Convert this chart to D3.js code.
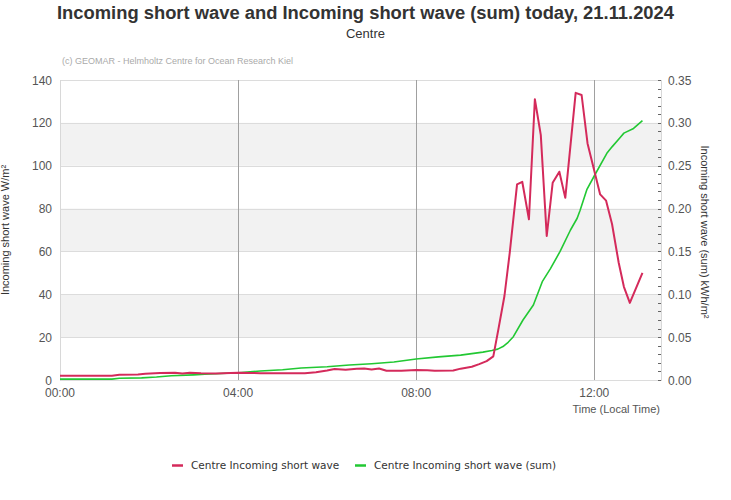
<!DOCTYPE html>
<html><head><meta charset="utf-8">
<script src="https://cdn.jsdelivr.net/npm/d3@7"></script>
<style>body{margin:0;background:#fff}svg{display:block}</style>
</head><body>
<svg id="c" width="731" height="500"></svg>
<script>
const titleText = "Incoming short wave and Incoming short wave (sum) today, 21.11.2024";
const subtitleText = "Centre";
const creditText = "(c) GEOMAR - Helmholtz Centre for Ocean Research Kiel";
const seriesNames = ["Centre Incoming short wave", "Centre Incoming short wave (sum)"];
const xTicks = ["00:00", "04:00", "08:00", "12:00"];
const leftTicks = [0, 20, 40, 60, 80, 100, 120, 140];
const rightTicks = [0, 0.05, 0.10, 0.15, 0.20, 0.25, 0.30, 0.35];

// Incoming short wave (W/m²)
const swTimes = ["00:00","01:10","01:20","01:45","01:55","02:15","02:35","02:45","02:55","03:10","03:30","04:00","04:20","04:30","05:00","05:30","05:45","06:00","06:10","06:25","06:40","06:50","07:00","07:10","07:20","07:40","08:00","08:15","08:25","08:50","09:00","09:15","09:25","09:35","09:44","09:51","09:59","10:06","10:16","10:23","10:32","10:40","10:48","10:56","11:04","11:13","11:21","11:35","11:43","11:51","12:08","12:16","12:24","12:33","12:40","12:48","13:05"];
const swValues = [2.0,2.0,2.4,2.6,2.9,3.3,3.4,3.0,3.4,3.1,3.0,3.4,3.3,3.1,3.1,3.1,3.6,4.4,5.1,4.8,5.2,5.4,4.9,5.4,4.3,4.3,4.7,4.6,4.3,4.4,5.3,6.2,7.4,8.8,11.0,24,39.2,59,91.3,92.5,75,131,114.3,67.2,92,97.2,85,134,133,110.4,86.6,83.7,72.8,54.7,43.5,36,50];

// Incoming short wave (sum) (kWh/m²)
const sumTimes = ["00:00","01:10","01:20","01:50","02:10","02:30","03:00","03:15","04:00","04:30","05:00","05:25","06:00","06:30","07:00","07:30","08:00","08:30","09:00","09:30","09:42","09:50","09:57","10:04","10:11","10:24","10:38","10:50","11:01","11:14","11:28","11:37","11:41","11:50","12:00","12:17","12:24","12:35","12:40","12:53","13:05"];
const sumValues = [0.001,0.001,0.002,0.0025,0.0035,0.005,0.006,0.0067,0.0085,0.0105,0.012,0.014,0.0155,0.0175,0.019,0.021,0.0245,0.027,0.029,0.0325,0.0345,0.036,0.039,0.044,0.0505,0.070,0.0875,0.1147,0.130,0.150,0.175,0.1887,0.198,0.222,0.238,0.2645,0.272,0.283,0.288,0.2935,0.3025];

const toMin = s => { const [h,m] = s.split(":").map(Number); return h*60+m; };

const svg = d3.select("#c");
const L = 60, R = 661, T = 80, B = 380;
const x = d3.scaleLinear().domain([0, 810]).range([L, R]);
const yL = d3.scaleLinear().domain([0, 140]).range([B, T]);
const yR = d3.scaleLinear().domain([0, 0.35]).range([B, T]);

const font = "'Liberation Sans', Arial, sans-serif";

// bands
const bands = [[20,40],[60,80],[100,120]];
svg.append("g").selectAll("rect").data(bands).join("rect")
  .attr("x", L).attr("width", R - L)
  .attr("y", d => yL(d[1])).attr("height", d => yL(d[0]) - yL(d[1]))
  .attr("fill", "#f2f2f2");

// horizontal grid
svg.append("g").selectAll("line").data(leftTicks).join("line")
  .attr("x1", L).attr("x2", R)
  .attr("y1", d => Math.round(yL(d)) + 0.5).attr("y2", d => Math.round(yL(d)) + 0.5)
  .attr("stroke", "#dcdcdc").attr("stroke-width", 1);

// vertical borders
svg.append("line").attr("x1", L+0.5).attr("x2", L+0.5).attr("y1", T).attr("y2", B+1).attr("stroke", "#d8d8d8");
svg.append("line").attr("x1", R+0.5).attr("x2", R+0.5).attr("y1", T).attr("y2", B+1).attr("stroke", "#d8d8d8");

// vertical time lines
svg.append("g").selectAll("line").data(xTicks.slice(1)).join("line")
  .attr("x1", d => Math.round(x(toMin(d))) + 0.5).attr("x2", d => Math.round(x(toMin(d))) + 0.5)
  .attr("y1", T).attr("y2", B)
  .attr("stroke", "#a0a0a0").attr("stroke-width", 1);

// right minor ticks
const minor = d3.range(0, 36).map(i => i / 100);
svg.append("g").selectAll("line").data(minor).join("line")
  .attr("x1", R - 3).attr("x2", R)
  .attr("y1", d => Math.round(yR(d)) + 0.5).attr("y2", d => Math.round(yR(d)) + 0.5)
  .attr("stroke", "#666").attr("stroke-width", 1);

// axis labels
svg.append("g").selectAll("text").data(leftTicks).join("text")
  .attr("x", 52).attr("y", d => yL(d) + 4.5)
  .attr("text-anchor", "end").attr("font-family", font).attr("font-size", 12).attr("fill", "#555")
  .text(d => d);
svg.append("g").selectAll("text").data(rightTicks).join("text")
  .attr("x", 668).attr("y", d => yR(d) + 4.5)
  .attr("text-anchor", "start").attr("font-family", font).attr("font-size", 12).attr("fill", "#555")
  .text(d => d.toFixed(2));
svg.append("g").selectAll("text").data(xTicks).join("text")
  .attr("x", d => x(toMin(d))).attr("y", 397)
  .attr("text-anchor", "middle").attr("font-family", font).attr("font-size", 12).attr("fill", "#555")
  .text(d => d);

svg.append("text").attr("x", 660).attr("y", 413).attr("text-anchor", "end")
  .attr("font-family", font).attr("font-size", 11).attr("fill", "#555").text("Time (Local Time)");

svg.append("text").attr("transform", `translate(9,${(T+B)/2}) rotate(-90)`).attr("text-anchor", "middle")
  .attr("font-family", font).attr("font-size", 11).attr("fill", "#333").text("Incoming short wave W/m²");
svg.append("text").attr("transform", `translate(701,${(T+B)/2 + 2}) rotate(90)`).attr("text-anchor", "middle")
  .attr("font-family", font).attr("font-size", 11).attr("fill", "#333").text("Incoming short wave (sum) kWh/m²");

// lines
const sumLine = d3.line().x((d,i) => x(toMin(sumTimes[i]))).y(d => yR(d));
const swLine = d3.line().x((d,i) => x(toMin(swTimes[i]))).y(d => yL(d));
svg.append("path").attr("d", sumLine(sumValues)).attr("fill", "none")
  .attr("stroke", "#22c833").attr("stroke-width", 1.6).attr("stroke-linejoin", "round");
svg.append("path").attr("d", swLine(swValues)).attr("fill", "none")
  .attr("stroke", "#d42a5b").attr("stroke-width", 2).attr("stroke-linejoin", "round");

// title
svg.append("text").attr("x", 365.5).attr("y", 19).attr("text-anchor", "middle")
  .attr("font-family", font).attr("font-weight", "bold").attr("font-size", 18).attr("fill", "#333")
  .attr("textLength", 617).attr("lengthAdjust", "spacingAndGlyphs").text(titleText);
svg.append("text").attr("x", 365.5).attr("y", 38).attr("text-anchor", "middle")
  .attr("font-family", font).attr("font-size", 13).attr("fill", "#333").text(subtitleText);
svg.append("text").attr("x", 62).attr("y", 64)
  .attr("font-family", font).attr("font-size", 9).attr("fill", "#aaa").text(creditText);

// legend
const legColors = ["#d42a5b", "#22c833"];
const legX = [172, 355];
const lg = svg.append("g").selectAll("g").data(seriesNames).join("g")
  .attr("transform", (d,i) => `translate(${legX[i]},465)`);
lg.append("line").attr("x1", 0).attr("x2", 11).attr("y1", 0.5).attr("y2", 0.5)
  .attr("stroke", (d,i) => legColors[i]).attr("stroke-width", 2.5);
lg.append("text").attr("x", 19).attr("y", 4)
  .attr("font-family", "'DejaVu Sans', Verdana, sans-serif").attr("font-size", 10.5).attr("fill", "#333")
  .text(d => d);
</script>
</body></html>
